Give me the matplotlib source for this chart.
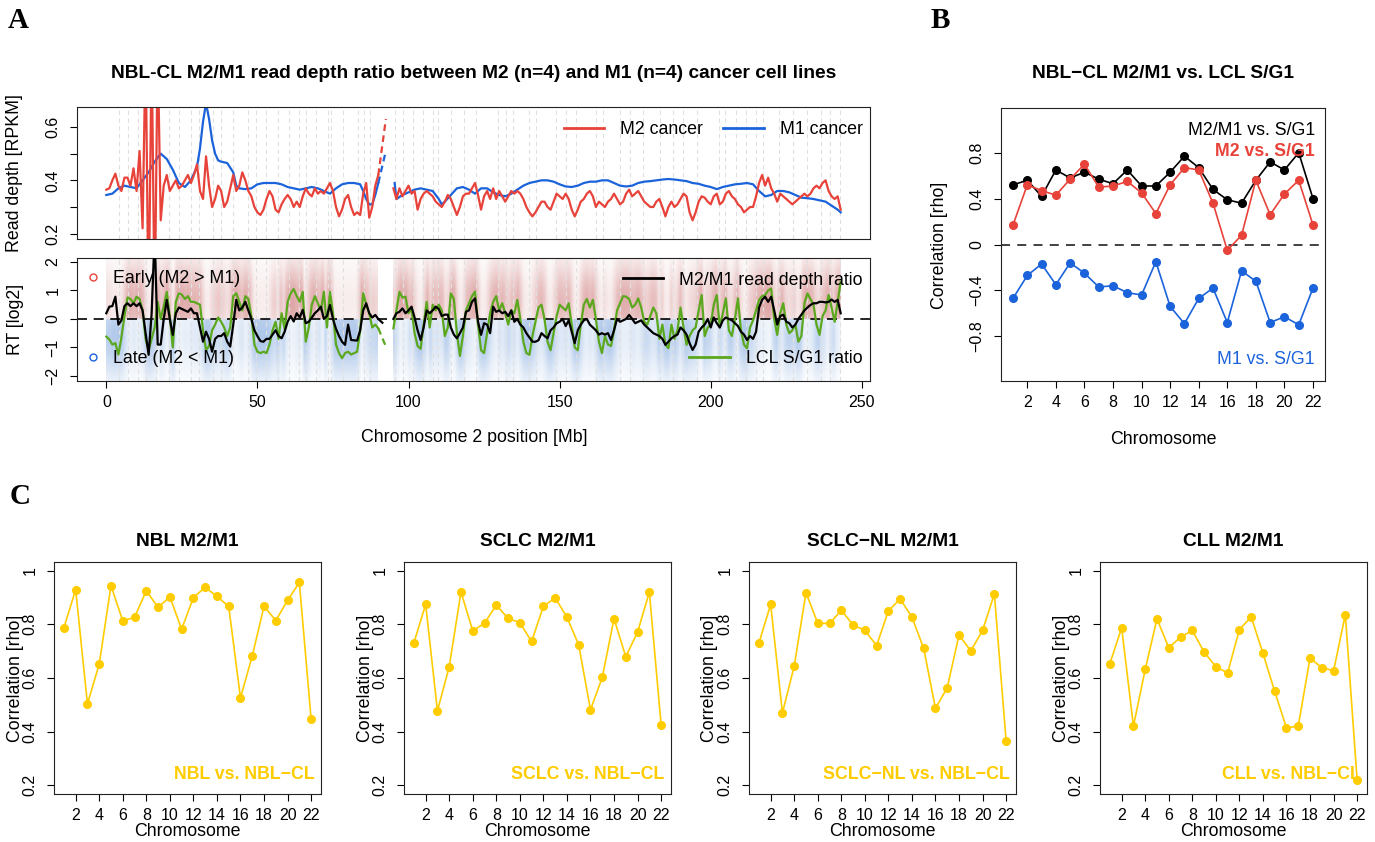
import numpy as np
import matplotlib
matplotlib.use('Agg')
import matplotlib.pyplot as plt
from matplotlib.lines import Line2D

plt.rcParams['font.family'] = ['Liberation Sans', 'DejaVu Sans']

# ---------------- data ----------------
# panel A, chromosome 2 tracks (Mb positions, 1 Mb steps per arm)
mb_p = list(range(0, 91))
mb_q = list(range(95, 244))
mb_cen = [90, 92.5]

red_p = [0.365, 0.37, 0.40, 0.425, 0.38, 0.36, 0.41, 0.41, 0.38, 0.445,
         0.36, 0.51, 0.22, 0.9, -0.1, 0.9, -0.1, 0.9, 0.25, 0.38,
         0.42, 0.36, 0.38, 0.40, 0.37, 0.38, 0.40, 0.42, 0.39, 0.42,
         0.46, 0.36, 0.33, 0.49, 0.38, 0.30, 0.33, 0.38, 0.36, 0.30,
         0.32, 0.37, 0.42, 0.36, 0.38, 0.43, 0.40, 0.36, 0.34, 0.30,
         0.28, 0.27, 0.29, 0.33, 0.36, 0.34, 0.29, 0.28, 0.31, 0.33,
         0.345, 0.33, 0.30, 0.32, 0.30, 0.34, 0.37, 0.35, 0.34, 0.37,
         0.35, 0.36, 0.35, 0.37, 0.39, 0.36, 0.30, 0.265, 0.29, 0.33,
         0.345, 0.30, 0.27, 0.28, 0.27, 0.35, 0.39, 0.26, 0.30, 0.38,
         0.42]
red_q = [0.37, 0.33, 0.37, 0.34, 0.36, 0.38, 0.35, 0.36, 0.29, 0.33,
         0.35, 0.36, 0.35, 0.34, 0.32, 0.31, 0.30, 0.32, 0.345, 0.33,
         0.30, 0.27, 0.30, 0.34, 0.35, 0.35, 0.37, 0.39, 0.345, 0.29,
         0.34, 0.36, 0.33, 0.37, 0.33, 0.36, 0.34, 0.32, 0.34, 0.36,
         0.35, 0.36, 0.35, 0.33, 0.30, 0.28, 0.265, 0.28, 0.30, 0.32,
         0.32, 0.30, 0.29, 0.32, 0.35, 0.34, 0.33, 0.35, 0.33, 0.29,
         0.265, 0.29, 0.32, 0.33, 0.35, 0.36, 0.34, 0.30, 0.32, 0.31,
         0.30, 0.32, 0.33, 0.35, 0.33, 0.31, 0.32, 0.35, 0.365, 0.34,
         0.35, 0.36, 0.34, 0.32, 0.31, 0.30, 0.30, 0.32, 0.33, 0.30,
         0.265, 0.30, 0.32, 0.30, 0.31, 0.33, 0.35, 0.34, 0.28, 0.25,
         0.28, 0.32, 0.34, 0.335, 0.32, 0.31, 0.34, 0.35, 0.31, 0.32,
         0.35, 0.36, 0.34, 0.33, 0.31, 0.30, 0.28, 0.29, 0.30, 0.30,
         0.34, 0.39, 0.42, 0.38, 0.41, 0.37, 0.35, 0.32, 0.35, 0.34,
         0.33, 0.32, 0.31, 0.32, 0.33, 0.34, 0.35, 0.34, 0.35, 0.37,
         0.38, 0.37, 0.39, 0.40, 0.36, 0.34, 0.33, 0.34, 0.29]
red_cen = [0.42, 0.63]

blue_p_mb = [0, 2, 4, 6, 8, 10, 12, 14, 16, 18, 20, 22, 24, 26, 28, 30,
             31, 32, 33, 34, 35, 36, 37, 38, 40, 42, 43, 44,
             46, 48, 50, 52, 54, 56, 58, 60, 62, 64, 66, 68, 70, 72, 74, 76, 78, 80, 82, 84,
             85, 86, 87, 88, 89, 90]
blue_p = [0.345, 0.35, 0.37, 0.38, 0.375, 0.37, 0.40, 0.43, 0.47, 0.50, 0.48, 0.44, 0.39, 0.375, 0.40, 0.45,
          0.52, 0.62, 0.69, 0.63, 0.55, 0.50, 0.475, 0.47, 0.465, 0.43, 0.38, 0.37,
          0.367, 0.37, 0.385, 0.39, 0.39, 0.39, 0.385, 0.375, 0.37, 0.365, 0.37, 0.375, 0.37, 0.36, 0.35,
          0.37, 0.385, 0.39, 0.39, 0.385,
          0.36, 0.33, 0.31, 0.31, 0.345, 0.39]
blue_q_mb = [95.4, 96, 98, 100, 102, 104, 106, 108, 110, 111, 112, 114, 116, 118, 120, 122, 124, 126,
             128, 130, 132, 134, 136, 138, 140, 142, 144, 146, 148, 150, 152, 154, 156, 158, 160, 162,
             164, 166, 168, 170, 172, 174, 176, 178, 180, 182, 184, 186, 188, 190, 192, 194, 196, 198,
             200, 202, 204, 206, 208, 210, 212, 214, 216, 218, 220, 222, 224, 226, 228, 230, 232, 234,
             236, 238, 240, 242, 243]
blue_q = [0.39, 0.33, 0.345, 0.355, 0.365, 0.37, 0.365, 0.36, 0.33, 0.31, 0.32, 0.345, 0.37, 0.375, 0.365, 0.35, 0.37, 0.37,
          0.355, 0.345, 0.34, 0.35, 0.365, 0.38, 0.39, 0.395, 0.40, 0.40, 0.395, 0.385, 0.377, 0.375, 0.38, 0.39, 0.395, 0.395,
          0.40, 0.40, 0.39, 0.38, 0.377, 0.38, 0.39, 0.395, 0.397, 0.40, 0.403, 0.405, 0.403, 0.40, 0.397, 0.39, 0.387, 0.38,
          0.375, 0.367, 0.375, 0.38, 0.385, 0.387, 0.39, 0.385, 0.36, 0.34, 0.345, 0.36, 0.36, 0.355, 0.345, 0.335, 0.333, 0.33,
          0.325, 0.32, 0.305, 0.29, 0.28]
blue_cen = [0.39, 0.51]

ratio_p = [0.20, 0.43, 0.45, 0.78, -0.20, -0.05, 0.45, 0.55, 0.45, 0.55,
           0.45, 0.55, 0.30, -0.50, -1.26, 0.20, 3.00, -0.90, -0.90, 0.00,
           0.67, 0.00, -0.56, 0.20, 0.40, 0.35, 0.30, 0.25, 0.37, 0.20,
           0.20, -0.30, -0.80, -0.45, -0.70, -1.15, -0.70, -0.60, -0.60, -0.50,
           -0.80, -0.97, -0.20, 0.67, 0.30, 0.40, 0.60, 0.30, 0.00, -0.40,
           -0.60, -0.78, -0.80, -0.70, -0.70, -0.55, -0.40, -0.60, -0.68, -0.45,
           -0.10, 0.10, -0.09, 0.20, 0.05, 0.32, -0.15, -0.10, 0.05, 0.20,
           0.30, 0.43, 0.00, 0.10, 0.49, 0.00, -0.35, -0.60, -0.80, -0.91,
           -0.20, -0.74, -0.75, -0.76, -0.40, 0.30, 0.55, 0.20, 0.05, 0.14,
           0.00]
ratio_q = [0.00, 0.20, 0.25, 0.37, 0.20, 0.30, 0.43, 0.05, -0.40, -0.74,
           -0.30, 0.30, 0.20, 0.30, 0.43, 0.35, 0.10, 0.15, 0.15, -0.30,
           -0.55, -0.68, -0.50, -0.30, 0.25, 0.30, 0.60, 0.72, -0.10, -0.56,
           -0.15, -0.20, -0.50, 0.43, 0.25, 0.30, 0.20, 0.25, 0.10, 0.30,
           -0.10, 0.00, -0.20, -0.30, -0.50, -0.65, -0.80, -0.80, -0.75, -0.50,
           -0.60, -0.68, -0.40, -0.30, -0.15, -0.10, 0.00, -0.25, -0.05, -0.45,
           -0.85, -0.40, -0.20, -0.05, 0.00, -0.20, -0.30, -0.40, -0.55, -0.50,
           -0.55, -0.50, -0.74, -0.40, 0.00, -0.10, -0.05, 0.00, 0.14, 0.00,
           -0.15, -0.10, -0.05, -0.20, -0.30, -0.40, -0.50, -0.55, -0.60, -0.70,
           -0.91, -0.80, -0.68, -0.60, -0.55, -0.30, -0.40, -0.55, -0.85, -1.09,
           -0.90, -0.45, -0.30, -0.20, 0.00, -0.30, 0.05, -0.15, -0.30, -0.05,
           0.05, 0.00, -0.05, -0.15, -0.25, -0.45, -0.55, -0.74, -0.60, -0.70,
           -0.45, 0.40, 0.67, 0.78, 0.60, 0.78, 0.30, -0.20, 0.10, 0.15,
           -0.10, -0.15, -0.30, -0.20, 0.00, 0.15, 0.30, 0.40, 0.49, 0.55,
           0.55, 0.60, 0.60, 0.58, 0.60, 0.68, 0.60, 0.67, 0.20]
ratio_cen = [0.00, -0.25]

lcl_p = [-0.62, -0.72, -0.90, -0.85, -1.25, -0.65, 0.10, 0.75, 0.70, 0.55,
         0.78, 0.70, 0.30, -0.70, -1.10, -0.70, -0.30, 0.60, 0.00, 0.45,
         0.95, 0.10, -1.00, 0.60, 0.90, 0.85, 0.70, 0.80, 0.60, 0.60,
         0.55, 0.50, -0.40, -1.10, -0.95, -0.40, -0.20, 0.05, -0.10, -0.30,
         -0.60, -0.30, 0.80, 0.90, 0.60, 0.30, 0.80, 0.70, 0.10, -0.90,
         -1.15, -1.20, -1.15, -1.20, -0.90, -0.40, -0.10, -0.70, 0.20, -0.35,
         0.60, 0.90, 1.05, 0.80, 0.60, 0.95, -0.80, -0.30, 0.50, 0.80,
         0.55, 0.30, 0.95, -0.30, 0.95, 0.20, -0.90, -1.20, -1.38, -1.20,
         -1.15, -1.25, -1.20, -1.15, -0.40, 0.90, 0.50, 0.20, -0.30, -0.20,
         -0.33]
lcl_q = [-0.33, 0.30, 0.95, 0.75, 0.78, 0.20, 0.35, -0.50, -0.95, -1.05,
         -0.20, 0.60, -0.30, 0.50, 0.30, 0.50, 0.30, -0.60, -0.30, 0.90,
         0.70, -0.50, -1.30, -0.60, 0.30, 0.55, 0.80, 0.96, -0.20, -1.10,
         -1.20, -0.50, 0.20, 0.60, 0.80, 0.30, 0.55, 0.20, -0.20, 0.30,
         0.20, 0.67, 0.00, -0.80, -1.20, -1.26, -0.60, -0.10, 0.40, 0.50,
         0.00, -0.80, -1.10, -0.50, 0.10, 0.50, 0.40, 0.30, 0.55, -0.20,
         -1.00, -1.10, -0.20, 0.50, 0.70, 0.40, 0.67, 0.00, -0.80, -1.20,
         -0.60, -0.90, -0.95, -0.40, 0.30, 0.55, 0.80, 0.78, 0.70, 0.40,
         0.50, 0.72, 0.40, -0.10, -0.20, 0.10, 0.40, 0.20, -0.70, -0.20,
         -0.90, -1.03, -0.20, -0.70, -0.40, 0.40, -0.30, -0.91, -0.60, -0.40,
         -0.30, 0.30, 0.84, -0.60, -0.30, -0.20, 0.50, 0.84, -0.30, 0.20,
         0.72, -0.40, -0.60, 0.00, 0.72, -0.40, -0.90, -1.03, -0.30, -0.05,
         0.30, 0.67, 0.80, 0.84, 1.00, 1.07, 0.00, -0.56, 0.20, 0.55,
         -0.20, -0.50, -0.40, -0.20, -0.80, -0.60, 0.55, 0.90, 0.70, 0.50,
         -0.20, -0.56, 0.10, 0.30, 0.84, 0.40, -0.10, 0.60, 1.30]
lcl_cen = [-0.33, -0.97]

# segment boundaries (grey dashed guides), Mb
seg_mb = [4.3, 7.1, 10.4, 13.2, 16.4, 20.9, 24.2, 28.0, 30.8, 35.2, 38.0, 41.8, 46.8, 49.6,
          52.9, 56.7, 60.6, 63.9, 66.1, 69.4, 73.3, 74.4, 78.3, 83.2, 85.4, 87.1, 95.4, 98.1,
          101.4, 104.7, 108.1, 109.7, 114.1, 118.5, 122.4, 129.6, 132.3, 134.6, 140.0, 142.3,
          148.9, 152.2, 155.5, 162.1, 164.3, 169.9, 173.2, 177.6, 183.1, 187.5, 190.8, 195.3,
          202.9, 204.6, 208.4, 211.8, 215.0, 217.2, 222.7, 227.3, 231.7, 236.6, 239.4, 242.7]

# panel B
chrom = list(range(1, 23))
rho_ratio = [0.52, 0.56, 0.42, 0.65, 0.58, 0.63, 0.57, 0.53, 0.65, 0.51, 0.51,
             0.63, 0.77, 0.67, 0.48, 0.39, 0.36, 0.56, 0.72, 0.65, 0.80, 0.40]
rho_m2 = [0.17, 0.52, 0.47, 0.43, 0.57, 0.70, 0.50, 0.51, 0.55, 0.45, 0.27,
          0.52, 0.67, 0.65, 0.36, -0.05, 0.08, 0.56, 0.26, 0.44, 0.56, 0.17]
rho_m1 = [-0.47, -0.27, -0.17, -0.35, -0.16, -0.25, -0.37, -0.36, -0.42, -0.44, -0.15,
          -0.54, -0.69, -0.47, -0.38, -0.68, -0.23, -0.32, -0.68, -0.63, -0.70, -0.38]

# panel C
rho_nbl = [0.787, 0.929, 0.504, 0.651, 0.944, 0.813, 0.826, 0.925, 0.863, 0.902, 0.782,
           0.899, 0.938, 0.904, 0.867, 0.526, 0.682, 0.867, 0.814, 0.889, 0.956, 0.447]
rho_sclc = [0.731, 0.874, 0.478, 0.642, 0.920, 0.776, 0.804, 0.872, 0.822, 0.806, 0.736,
            0.867, 0.898, 0.827, 0.723, 0.482, 0.602, 0.821, 0.679, 0.771, 0.920, 0.426]
rho_sclc_nl = [0.730, 0.874, 0.470, 0.644, 0.918, 0.804, 0.803, 0.852, 0.798, 0.777, 0.721,
               0.850, 0.894, 0.827, 0.710, 0.487, 0.564, 0.760, 0.701, 0.777, 0.913, 0.366]
rho_cll = [0.654, 0.787, 0.421, 0.632, 0.820, 0.713, 0.752, 0.777, 0.697, 0.642, 0.619,
           0.780, 0.828, 0.692, 0.550, 0.414, 0.421, 0.674, 0.639, 0.627, 0.836, 0.220]
c_titles = ['NBL M2/M1', 'SCLC M2/M1', 'SCLC\u2212NL M2/M1', 'CLL M2/M1']
c_notes = ['NBL vs. NBL\u2212CL', 'SCLC vs. NBL\u2212CL', 'SCLC\u2212NL vs. NBL\u2212CL', 'CLL vs. NBL\u2212CL']

# ---------------- style ----------------
RED = '#E8433A'
BLUE = '#1B63DB'
GREEN = '#5BA81E'
GOLD = '#FFCC00'
TICK = 11.5
LAB = 12.8
TIT = 13.8

W, H = 1375, 842
fig = plt.figure(figsize=(W / 100, H / 100), dpi=100)


def rect(x0, y0, x1, y1):
    return [x0 / W, 1 - y1 / H, (x1 - x0) / W, (y1 - y0) / H]


def style(ax):
    for s in ax.spines.values():
        s.set_linewidth(0.8)
        s.set_color('#222222')
    ax.tick_params(length=5, width=0.8, labelsize=TICK, pad=5)
    ax.tick_params(axis='y', pad=7)
    for lab in ax.get_yticklabels():
        lab.set_rotation(90)
        lab.set_va('center')


def cloud(ax, mb, g):
    # shaded density standing in for the S/G1 point cloud (red above 0, blue below)
    yy = np.linspace(-2.3, 2.3, 230)
    G = np.clip(np.asarray(g), -1.2, 1.2)[None, :]
    Y = yy[:, None]
    w_up = np.clip(0.6 + 0.4 * G, 0.2, 1.0)
    w_dn = np.clip(0.6 - 0.4 * G, 0.2, 1.0)
    up = np.exp(-0.5 * ((Y - 0.6) / 1.0) ** 2) * w_up
    dn = np.exp(-0.5 * ((Y + 0.6) / 1.0) ** 2) * w_dn
    rgba = np.zeros((len(yy), len(mb), 4))
    pos = (Y > 0)[..., None]
    rgba[..., :3] = np.where(pos, np.array([0.72, 0.22, 0.22]), np.array([0.30, 0.52, 0.82]))
    rgba[..., 3] = np.where(Y > 0, up, dn) * 0.45
    ax.imshow(rgba, extent=[mb[0], mb[-1], -2.3, 2.3], origin='lower', aspect='auto',
              interpolation='bilinear', zorder=0)


fig.text(18 / W, 1 - 21 / H, 'A', family='Liberation Serif', weight='bold', fontsize=21, ha='center', va='center')
fig.text(940 / W, 1 - 21 / H, 'B', family='Liberation Serif', weight='bold', fontsize=21, ha='center', va='center')
fig.text(20 / W, 1 - 497 / H, 'C', family='Liberation Serif', weight='bold', fontsize=21, ha='center', va='center')

# ---------------- panel A ----------------
axA1 = fig.add_axes(rect(77, 107, 870, 239))
axA2 = fig.add_axes(rect(77, 258, 870, 381))

for ax in (axA1, axA2):
    for m in seg_mb:
        ax.axvline(m, color='#E0E0E0', lw=0.8, ls=(0, (4, 3)), zorder=0.5)

axA1.plot(blue_p_mb, blue_p, color=BLUE, lw=1.6)
axA1.plot(blue_q_mb, blue_q, color=BLUE, lw=1.6)
axA1.plot(mb_cen, blue_cen, color=BLUE, lw=1.6, ls=(0, (3, 2)))
axA1.plot(mb_p, red_p, color=RED, lw=1.6)
axA1.plot(mb_q, red_q, color=RED, lw=1.6)
axA1.plot(mb_cen, red_cen, color=RED, lw=1.6, ls=(0, (3, 2)))
axA1.set_xlim(-9.7, 252.7)
axA1.set_ylim(0.18, 0.675)
axA1.set_xticks([])
axA1.set_yticks([0.2, 0.3, 0.4, 0.5, 0.6])
axA1.set_yticklabels(['0.2', '', '0.4', '', '0.6'])
style(axA1)
axA1.legend([Line2D([], [], color=RED, lw=2), Line2D([], [], color=BLUE, lw=2)],
            ['M2 cancer', 'M1 cancer'], ncol=2, loc='center right', bbox_to_anchor=(1.0, 0.826),
            frameon=False, fontsize=LAB, handlelength=2.3, handletextpad=0.9, columnspacing=1.1,
            borderaxespad=0.2, borderpad=0.2)

cloud(axA2, mb_p, lcl_p)
cloud(axA2, mb_q, lcl_q)
axA2.axhline(0, color='black', lw=1.2, ls=(0, (6, 4)), zorder=1)
axA2.plot(mb_p, lcl_p, color=GREEN, lw=1.6, zorder=2)
axA2.plot(mb_q, lcl_q, color=GREEN, lw=1.6, zorder=2)
axA2.plot(mb_cen, lcl_cen, color=GREEN, lw=1.6, ls=(0, (3, 2)), zorder=2)
axA2.plot(mb_p, ratio_p, color='black', lw=1.6, zorder=3)
axA2.plot(mb_q, ratio_q, color='black', lw=1.6, zorder=3)
axA2.plot(mb_cen, ratio_cen, color='black', lw=1.6, ls=(0, (3, 2)), zorder=3)
axA2.set_xlim(-9.7, 252.7)
axA2.set_ylim(-2.18, 2.14)
axA2.set_xticks([0, 50, 100, 150, 200, 250])
axA2.set_yticks([-2, -1, 0, 1, 2])
style(axA2)

kw = dict(frameon=False, fontsize=LAB, borderaxespad=0.2, borderpad=0.2)
l1 = axA2.legend([Line2D([], [], color='black', lw=2)], ['M2/M1 read depth ratio'],
                 loc='center right', bbox_to_anchor=(1.0, 0.82), handlelength=2.3, handletextpad=0.9, **kw)
axA2.add_artist(l1)
l2 = axA2.legend([Line2D([], [], color=GREEN, lw=2)], ['LCL S/G1 ratio'],
                 loc='center right', bbox_to_anchor=(1.0, 0.18), handlelength=2.3, handletextpad=0.9, **kw)
axA2.add_artist(l2)
l3 = axA2.legend([Line2D([], [], ls='none', marker='o', mfc='none', mec=RED, ms=5, mew=1)],
                 ['Early (M2 > M1)'], loc='center left', bbox_to_anchor=(0.0, 0.83),
                 handlelength=1.0, handletextpad=0.6, **kw)
axA2.add_artist(l3)
axA2.legend([Line2D([], [], ls='none', marker='o', mfc='none', mec=BLUE, ms=5, mew=1)],
            ['Late (M2 < M1)'], loc='center left', bbox_to_anchor=(0.0, 0.18),
            handlelength=1.0, handletextpad=0.6, **kw)

fig.text(474 / W, 1 - 73 / H,
         'NBL-CL M2/M1 read depth ratio between M2 (n=4) and M1 (n=4) cancer cell lines',
         ha='center', va='center', fontsize=TIT, weight='bold')
fig.text(15 / W, 1 - 173 / H, 'Read depth [RPKM]', rotation=90, ha='center', va='center', fontsize=LAB)
fig.text(15 / W, 1 - 319 / H, 'RT [log2]', rotation=90, ha='center', va='center', fontsize=LAB)
fig.text(474 / W, 1 - 438 / H, 'Chromosome 2 position [Mb]', ha='center', va='center', fontsize=LAB)

# ---------------- panel B ----------------
axB = fig.add_axes(rect(1001, 108, 1325, 381))
axB.axhline(0, color='#333333', lw=1.3, ls=(0, (5, 4)))
axB.plot(chrom, rho_ratio, color='black', lw=1.2, marker='o', ms=5.5)
axB.plot(chrom, rho_m2, color=RED, lw=1.2, marker='o', ms=5.5)
axB.plot(chrom, rho_m1, color=BLUE, lw=1.2, marker='o', ms=5.5)
axB.set_xlim(0.16, 22.84)
axB.set_ylim(-1.19, 1.19)
axB.set_xticks(range(2, 23, 2))
axB.set_yticks([-0.8, -0.4, 0, 0.4, 0.8])
axB.set_yticklabels(['\u22120.8', '\u22120.4', '0', '0.4', '0.8'])
style(axB)
axB.text(0.969, 0.916, 'M2/M1 vs. S/G1', transform=axB.transAxes, ha='right', va='center', fontsize=LAB)
axB.text(0.969, 0.839, 'M2 vs. S/G1', transform=axB.transAxes, ha='right', va='center', fontsize=LAB,
         color=RED, weight='bold')
axB.text(0.969, 0.077, 'M1 vs. S/G1', transform=axB.transAxes, ha='right', va='center', fontsize=LAB,
         color=BLUE)
fig.text(1163 / W, 1 - 73 / H, 'NBL\u2212CL M2/M1 vs. LCL S/G1', ha='center', va='center',
         fontsize=TIT, weight='bold')
fig.text(940 / W, 1 - 245 / H, 'Correlation [rho]', rotation=90, ha='center', va='center', fontsize=LAB)
fig.text(1163 / W, 1 - 440 / H, 'Chromosome', ha='center', va='center', fontsize=LAB)

# ---------------- panel C ----------------
c_left = [54, 404, 749, 1100]
c_series = [rho_nbl, rho_sclc, rho_sclc_nl, rho_cll]
for x0, vals, title, note in zip(c_left, c_series, c_titles, c_notes):
    ax = fig.add_axes(rect(x0, 562, x0 + 267, 794))
    ax.plot(chrom, vals, color=GOLD, lw=1.2, marker='o', ms=5.5)
    ax.set_xlim(0.16, 22.84)
    ax.set_ylim(0.168, 1.032)
    ax.set_xticks(range(2, 23, 2))
    ax.set_yticks([0.2, 0.4, 0.6, 0.8, 1.0])
    ax.set_yticklabels(['0.2', '0.4', '0.6', '0.8', '1'])
    style(ax)
    ax.text(0.975, 0.085, note, transform=ax.transAxes, ha='right', va='center', fontsize=LAB,
            color=GOLD, weight='bold')
    cx = x0 + 133.5
    fig.text(cx / W, 1 - 541 / H, title, ha='center', va='center', fontsize=TIT, weight='bold')
    fig.text((x0 - 39) / W, 1 - 678 / H, 'Correlation [rho]', rotation=90, ha='center', va='center',
             fontsize=LAB)
    fig.text(cx / W, 1 - 832 / H, 'Chromosome', ha='center', va='center', fontsize=LAB)

fig.savefig('out.png', dpi=100)
